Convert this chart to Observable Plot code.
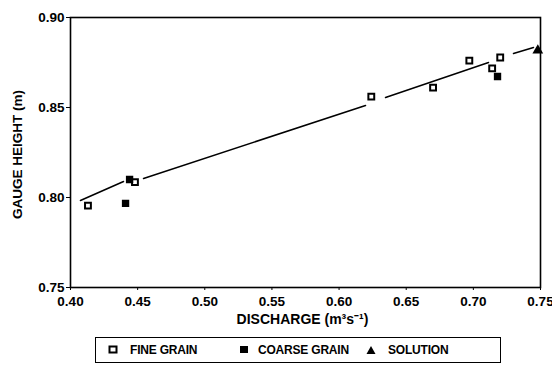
<!DOCTYPE html>
<html><head><meta charset="utf-8">
<script src="https://cdn.jsdelivr.net/npm/d3@7"></script>
<script src="https://cdn.jsdelivr.net/npm/@observablehq/plot@0.6"></script>
<style>
body{margin:0;background:#fff;font-family:"Liberation Sans",Arial,sans-serif;}
#wrap{position:relative;width:552px;height:371px;}
#legend{position:absolute;left:95px;top:337px;width:404px;height:24px;border:1.5px solid #000;font-weight:bold;font-size:12px;letter-spacing:-0.2px;}
.item{position:absolute;top:5px;height:14px;line-height:14px;}
.item svg{position:absolute;top:2px;}
.item span{position:absolute;white-space:nowrap;}
</style></head>
<body><div id="wrap"><div id="chart"></div><div id="legend"></div></div>
<script>
const xTicks = [0.40,0.45,0.50,0.55,0.60,0.65,0.70,0.75];
const yTicks = [0.75,0.80,0.85,0.90];
const fineX = [0.413,0.448,0.624,0.670,0.697,0.714,0.720];
const fineY = [0.7955,0.8085,0.856,0.861,0.876,0.8717,0.8778];
const coarseX = [0.441,0.444,0.718];
const coarseY = [0.7967,0.810,0.8672];
const solutionX = [0.748];
const solutionY = [0.8817];
const fitSeg = [0,0,1,1,2,2,3,3];
const fitX = [0.4074,0.4395,0.4544,0.6197,0.6346,0.7113,0.7299,0.7448];
const fitY = [0.7983,0.8089,0.8106,0.8511,0.8556,0.8750,0.8800,0.8833];
const legendLabels = ["FINE GRAIN","COARSE GRAIN","SOLUTION"];

const fit = fitX.map((x,i)=>({x, y: fitY[i], z: fitSeg[i]}));
const fine = fineX.map((x,i)=>({x, y: fineY[i]}));
const coarse = coarseX.map((x,i)=>({x, y: coarseY[i]}));
const sol = solutionX.map((x,i)=>({x, y: solutionY[i]}));

const chart = Plot.plot({
  width: 552, height: 330,
  marginLeft: 70, marginRight: 12, marginTop: 17, marginBottom: 43,
  style: {fontFamily: '"Liberation Sans", Arial, sans-serif', fontSize: "13px", fontWeight: "bold", color: "#000", background: "#fff"},
  x: {domain: [0.40, 0.75]},
  y: {domain: [0.75, 0.90]},
  marks: [
    Plot.frame({stroke: "#000", strokeWidth: 1.6}),
    Plot.axisX({ticks: xTicks, tickFormat: d3.format(".2f"), tickSize: 3, tickPadding: 6, label: null, fontWeight: "bold", fontSize: 13.5}),
    Plot.axisY({ticks: yTicks, tickFormat: d3.format(".2f"), tickSize: 4, tickPadding: 2, label: null, fontWeight: "bold", fontSize: 13.5}),
    Plot.text(["DISCHARGE (m³s⁻¹)"], {frameAnchor: "bottom", dy: 36, dx: -3, fontSize: 14, fontWeight: "bold"}),
    Plot.text(["GAUGE HEIGHT (m)"], {frameAnchor: "left", textAnchor: "middle", rotate: -90, dx: -53, dy: 2, fontSize: 13.5, fontWeight: "bold"}),
    Plot.line(fit, {x: "x", y: "y", z: "z", stroke: "#000", strokeWidth: 1.5}),
    Plot.dot(fine, {x: "x", y: "y", symbol: "square", r: 3.3, fill: "#fff", stroke: "#000", strokeWidth: 2}),
    Plot.dot(coarse, {x: "x", y: "y", symbol: "square", r: 3.3, fill: "#000", stroke: "#000"}),
    Plot.dot(sol, {x: "x", y: "y", symbol: "triangle", r: 4, fill: "#000"})
  ]
});
document.getElementById("chart").appendChild(chart);

const lg = document.getElementById("legend");
const syms = [
  '<svg width="10" height="10"><rect x="1.5" y="1.5" width="7" height="6" fill="#fff" stroke="#000" stroke-width="2"/></svg>',
  '<svg width="10" height="10"><rect x="1" y="1" width="8" height="7" fill="#000"/></svg>',
  '<svg width="10" height="10"><path d="M5 1 L9.5 9 L0.5 9 Z" fill="#000"/></svg>'
];
const symLeft = [12, 143, 270];
const textLeft = [34, 162, 292];
legendLabels.forEach((t,i)=>{
  const d = document.createElement("div");
  d.className = "item";
  d.innerHTML = syms[i] + '<span>' + t + '</span>';
  d.firstChild.style.left = symLeft[i] + "px";
  d.lastChild.style.left = textLeft[i] + "px";
  lg.appendChild(d);
});
</script></body></html>
